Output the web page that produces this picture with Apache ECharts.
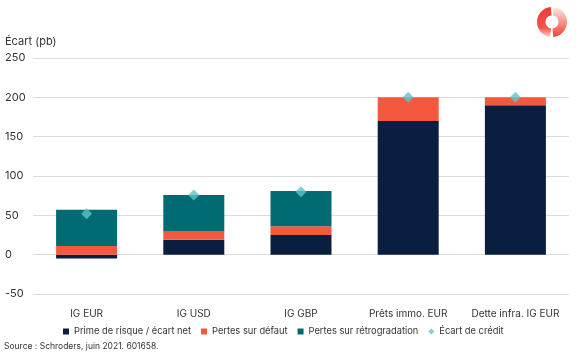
<!DOCTYPE html>
<html><head><meta charset="utf-8">
<script src="https://cdn.jsdelivr.net/npm/echarts@6/dist/echarts.min.js"></script>
<style>html,body{margin:0;padding:0;background:#fff}#c{width:582px;height:356px}</style>
</head><body><div id="c"></div>
<script>
const categories = ['IG EUR', 'IG USD', 'IG GBP', 'Prêts immo. EUR', 'Dette infra. IG EUR'];
const primeRisque = [-5, 19, 25, 170, 190];
const pertesDefaut = [11, 11, 11, 30, 10];
const pertesRetro = [46, 46, 45, 0, 0];
const ecartCredit = [52, 76, 80, 200, 200];
const seriesNames = ['Prime de risque / écart net', 'Pertes sur défaut', 'Pertes sur rétrogradation', 'Écart de crédit'];

const font = 'Inter, "Noto Sans", sans-serif';
const chart = echarts.init(document.getElementById('c'), null, {renderer: 'canvas'});
chart.setOption({
  animation: false,
  textStyle: {fontFamily: font},
  grid: {left: 33, right: 13, top: 58, bottom: 62},
  graphic: [
    {type: 'text', left: 5, top: 36, style: {text: 'Écart (pb)', font: '11px ' + font, fill: '#333'}},
    {type: 'text', left: 4, top: 342, style: {text: 'Source : Schroders, juin 2021. 601658.', font: '8.5px ' + font, fill: '#333'}},
    {type: 'sector', shape: {cx: 552, cy: 22, r: 15, r0: 6.5, startAngle: -Math.PI/2 - 0.08, endAngle: Math.PI/2 + 0.12, clockwise: false},
      style: {fill: new echarts.graphic.LinearGradient(0, 0, 0, 1, [{offset: 0, color: '#ee3b33'}, {offset: 0.7, color: '#f0564a'}, {offset: 1, color: '#fbd3ce'}])}},
    {type: 'sector', shape: {cx: 552, cy: 22, r: 15, r0: 6.5, startAngle: -Math.PI/2 + 0.12, endAngle: Math.PI/2 - 0.08, clockwise: true},
      style: {fill: new echarts.graphic.LinearGradient(0, 0, 0, 1, [{offset: 0, color: '#fde8e5'}, {offset: 0.5, color: '#f6948a'}, {offset: 1, color: '#ee4236'}])}}
  ],
  legend: {
    left: 58, top: 322, itemWidth: 6, itemHeight: 6, itemGap: 10,
    textStyle: {fontSize: 9.3, color: '#333', fontFamily: font},
    data: [
      {name: seriesNames[0], icon: 'rect'},
      {name: seriesNames[1], icon: 'rect'},
      {name: seriesNames[2], icon: 'rect'},
      {name: seriesNames[3], icon: 'diamond'}
    ]
  },
  xAxis: {
    type: 'category', data: categories,
    axisLine: {show: false}, axisTick: {show: false},
    axisLabel: {fontSize: 10, color: '#333', margin: 15, interval: 0, fontFamily: font}
  },
  yAxis: {
    type: 'value', min: -50, max: 250, interval: 50,
    axisLabel: {fontSize: 11, color: '#333', align: 'left', margin: 28, fontFamily: font,
      formatter: v => String(v)},
    splitLine: {lineStyle: {color: '#dcdcdc', width: 1}}
  },
  series: [
    {name: seriesNames[0], type: 'bar', stack: 's', barWidth: 61, data: primeRisque, itemStyle: {color: '#0a1f40'}},
    {name: seriesNames[1], type: 'bar', stack: 's', barWidth: 61, data: pertesDefaut, itemStyle: {color: '#f4583e'}},
    {name: seriesNames[2], type: 'bar', stack: 's', barWidth: 61, data: pertesRetro, itemStyle: {color: '#006b73'}},
    {name: seriesNames[3], type: 'scatter', symbol: 'diamond', symbolSize: 11, data: ecartCredit, itemStyle: {color: '#5cc4c8'}, z: 5}
  ]
});
</script></body></html>
